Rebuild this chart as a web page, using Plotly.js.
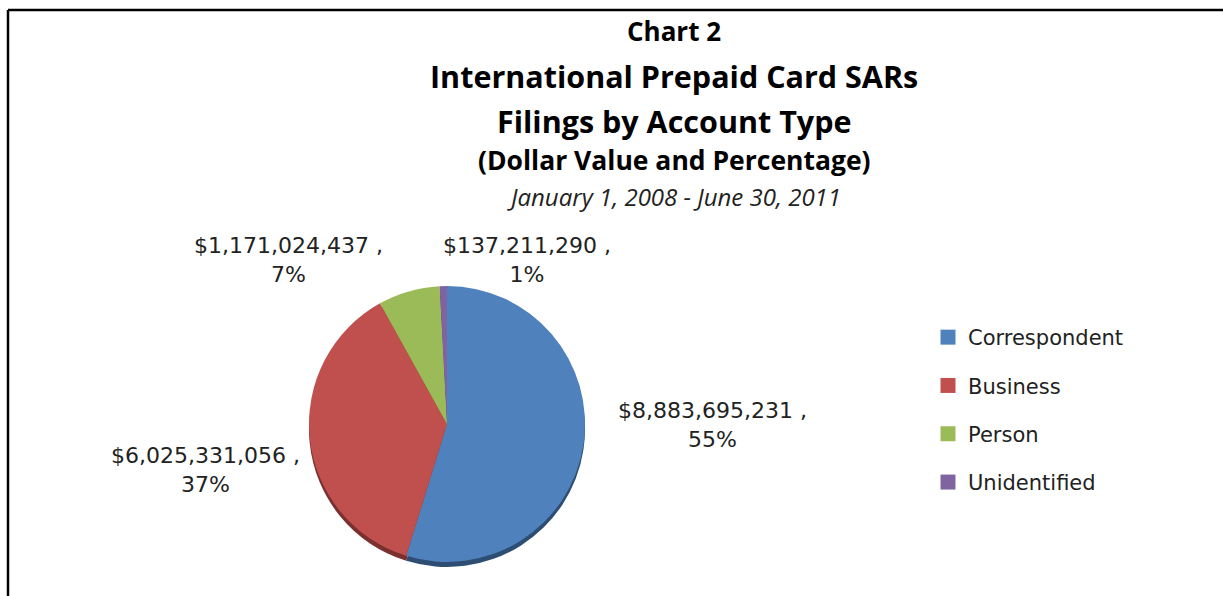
<!DOCTYPE html>
<html>
<head>
<meta charset="utf-8">
<script src="https://cdn.plot.ly/plotly-3.0.1.min.js"></script>
<style>
html,body{margin:0;padding:0;background:#fff;}
#chart{width:1223px;height:596px;}
</style>
</head>
<body>
<div id="chart"></div>
<script>
// ---- data ----
const categories = ['Correspondent', 'Business', 'Person', 'Unidentified'];
const dollarValues = [8883695231, 6025331056, 1171024437, 137211290];
const sliceColors = ['#4F81BD', '#C0504D', '#9BBB59', '#8064A2'];
const shadowColors = ['#2E4D73', '#7A302E', '#5F7634', '#4E3C66'];
const titleLines = ['Chart 2', 'International Prepaid Card SARs', 'Filings by Account Type', '(Dollar Value and Percentage)'];
const dateRange = 'January 1, 2008 - June 30, 2011';

// ---- layout helpers ----
const W = 1223, H = 596;
const px = x => x / W;
const py = y => 1 - y / H;

const total = dollarValues.reduce((a, b) => a + b, 0);
const labelTexts = dollarValues.map(v =>
  '$' + v.toLocaleString('en-US') + ' ,<br>' + Math.round(v / total * 100) + '%');
// label anchor centres (pixels), one per category
const labelPos = [[712, 425], [205, 470], [288, 260], [527, 260]];

const cx = 447, cy = 424, r = 138;

const traces = [
  {
    type: 'pie', values: dollarValues, labels: categories, sort: false,
    direction: 'clockwise', rotation: 0,
    marker: {colors: shadowColors, line: {width: 0}},
    textinfo: 'none', hoverinfo: 'skip', showlegend: false,
    domain: {x: [px(cx - r), px(cx + r)], y: [py(cy + 5 + r), py(cy + 5 - r)]}
  },
  {
    type: 'pie', values: dollarValues, labels: categories, sort: false,
    direction: 'clockwise', rotation: 0,
    marker: {colors: sliceColors, line: {width: 0}},
    textinfo: 'none', showlegend: false,
    domain: {x: [px(cx - r), px(cx + r)], y: [py(cy + r), py(cy - r)]}
  }
];
// legend entries (one per category, spaced as groups)
categories.forEach((c, i) => {
  traces.push({
    type: 'scatter', mode: 'markers', x: [null], y: [null], name: c,
    legendgroup: 'g' + i, showlegend: true, hoverinfo: 'skip',
    marker: {symbol: 'square', size: 15, color: sliceColors[i]}
  });
});

const annotations = [];
const titleStyles = [
  {y: 31, size: 26}, {y: 76, size: 30.5}, {y: 121, size: 30.5}, {y: 160, size: 26.5}
];
titleLines.forEach((t, i) => {
  annotations.push({
    xref: 'paper', yref: 'paper', x: px(674), y: py(titleStyles[i].y),
    xanchor: 'center', yanchor: 'middle', showarrow: false, text: '<b>' + t + '</b>',
    font: {family: '"Open Sans", Lato, sans-serif', size: titleStyles[i].size, color: '#000'}
  });
});
annotations.push({
  xref: 'paper', yref: 'paper', x: px(674), y: py(196),
  xanchor: 'center', yanchor: 'middle', showarrow: false, text: '<i>' + dateRange + '</i>',
  font: {family: '"Open Sans", Lato, sans-serif', size: 24, color: '#222'}
});
labelTexts.forEach((t, i) => {
  annotations.push({
    xref: 'paper', yref: 'paper', x: px(labelPos[i][0]), y: py(labelPos[i][1]),
    xanchor: 'center', yanchor: 'middle', align: 'center', showarrow: false, text: t,
    font: {family: '"DejaVu Sans", sans-serif', size: 22, color: '#222'}
  });
});

const layout = {
  width: W, height: H,
  margin: {l: 0, r: 0, t: 0, b: 0},
  paper_bgcolor: '#fff', plot_bgcolor: '#fff',
  xaxis: {visible: false}, yaxis: {visible: false},
  showlegend: true,
  legend: {
    x: px(928), y: py(317), xanchor: 'left', yanchor: 'top',
    traceorder: 'grouped', tracegroupgap: 18, itemclick: false, itemdoubleclick: false,
    font: {family: '"DejaVu Sans", sans-serif', size: 21, color: '#222'},
    bgcolor: 'rgba(0,0,0,0)', borderwidth: 0
  },
  annotations: annotations,
  shapes: [
    {type: 'line', xref: 'paper', yref: 'paper', x0: px(8), x1: px(8), y0: 0, y1: py(10),
     line: {color: '#000', width: 2.5}},
    {type: 'line', xref: 'paper', yref: 'paper', x0: px(8), x1: 1, y0: py(10), y1: py(10),
     line: {color: '#000', width: 2.5}}
  ]
};

Plotly.newPlot('chart', traces, layout, {displayModeBar: false, staticPlot: true});
</script>
</body>
</html>
